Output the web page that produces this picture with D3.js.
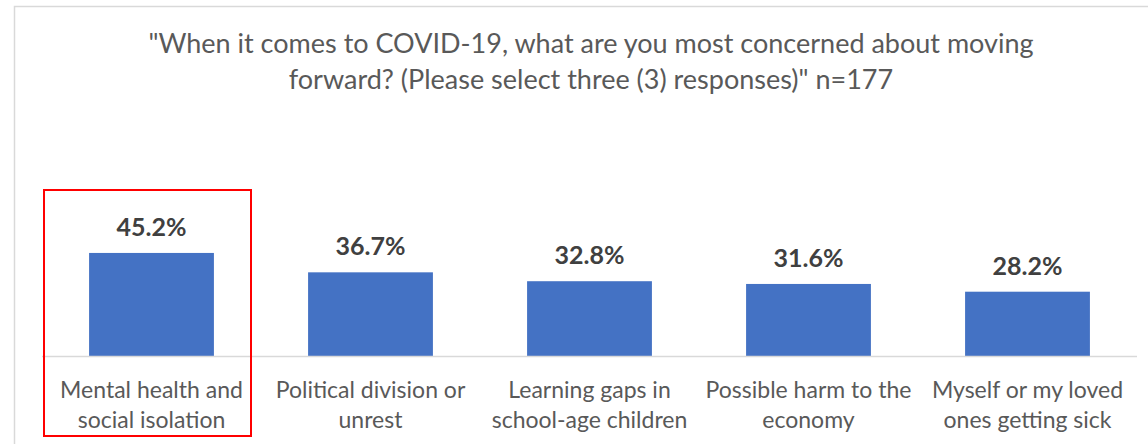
<!DOCTYPE html>
<html>
<head>
<meta charset="utf-8">
<script src="https://cdn.jsdelivr.net/npm/d3@7"></script>
<style>
  html, body { margin: 0; padding: 0; background: #fff; }
  svg { display: block; }
</style>
</head>
<body>
<svg id="chart" width="1148" height="444"></svg>
<script>
const titleLines = [
  "\"When it comes to COVID-19, what are you most concerned about moving",
  "forward? (Please select three (3) responses)\" n=177"
];
const categories = [
  ["Mental health and", "social isolation"],
  ["Political division or", "unrest"],
  ["Learning gaps in", "school-age children"],
  ["Possible harm to the", "economy"],
  ["Myself or my loved", "ones getting sick"]
];
const values = [45.2, 36.7, 32.8, 31.6, 28.2];
const highlighted = [0];

const svg = d3.select("#chart");
const W = 1148, H = 444;
const font = "Lato, 'Open Sans', sans-serif";
const textColor = "#595959";

// chart frame
svg.append("rect")
  .attr("x", 14.5).attr("y", 6.5)
  .attr("width", W + 20).attr("height", H + 20)
  .attr("fill", "#fff").attr("stroke", "#d9d9d9").attr("stroke-width", 1.5);

// title
svg.append("g").selectAll("text").data(titleLines).join("text")
  .attr("x", 591).attr("y", (d, i) => 53 + i * 36)
  .attr("text-anchor", "middle")
  .attr("font-family", font).attr("font-size", 27)
  .attr("fill", textColor)
  .text(d => d);

const x = d3.scaleBand()
  .domain(d3.range(values.length))
  .range([42, 1137])
  .paddingInner(0.43)
  .paddingOuter(0.215);

const y = d3.scaleLinear().domain([0, 50]).range([356, 242]);

// bars
svg.append("g").selectAll("rect").data(values).join("rect")
  .attr("x", (d, i) => x(i))
  .attr("y", d => y(d))
  .attr("width", x.bandwidth())
  .attr("height", d => y(0) - y(d))
  .attr("fill", "#4472c4");

// baseline
svg.append("line")
  .attr("x1", 42).attr("x2", 1137)
  .attr("y1", y(0) + 0.5).attr("y2", y(0) + 0.5)
  .attr("stroke", "#d9d9d9").attr("stroke-width", 1.5);

// value labels
svg.append("g").selectAll("text").data(values).join("text")
  .attr("x", (d, i) => x(i) + x.bandwidth() / 2)
  .attr("y", d => y(d) - 17)
  .attr("text-anchor", "middle")
  .attr("font-family", font).attr("font-size", 25).attr("font-weight", "bold")
  .attr("fill", "#404040")
  .text(d => d.toFixed(1) + "%");

// category labels
const cat = svg.append("g").selectAll("text").data(categories).join("text")
  .attr("text-anchor", "middle")
  .attr("font-family", font).attr("font-size", 23)
  .attr("fill", textColor);
cat.selectAll("tspan").data((d, i) => d.map(s => ({s, i}))).join("tspan")
  .attr("x", d => x(d.i) + x.bandwidth() / 2)
  .attr("y", (d, j) => 398 + j * 30)
  .text(d => d.s);

// highlight box
svg.append("g").selectAll("rect").data(highlighted).join("rect")
  .attr("x", i => x(i) - (x.step() - x.bandwidth()) / 2 + 2)
  .attr("y", 190)
  .attr("width", x.step() - 12)
  .attr("height", 246)
  .attr("fill", "none")
  .attr("stroke", "#ff0000").attr("stroke-width", 2);
</script>
</body>
</html>
